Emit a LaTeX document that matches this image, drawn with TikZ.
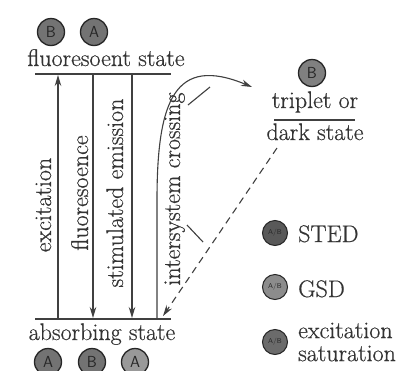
\documentclass[tikz,border=0pt]{standalone}
\usepackage{fontspec}
\setmainfont{Latin Modern Roman}[FakeBold=0.5]
\usetikzlibrary{arrows.meta}
\begin{document}
\begin{tikzpicture}[x=1pt,y=-1pt,
  lbl/.style={text=black!80, font=\fontsize{24}{23}\selectfont, inner sep=0pt},
  level/.style={draw=black!75, line width=1.4pt},
  trans/.style={draw=black!75, line width=1.1pt, -{Stealth[length=11pt,width=6.5pt]}},
  plain/.style={draw=black!75, line width=1.1pt},
  ball/.style={circle, draw=black!85, line width=1.3pt, fill=black!55, minimum size=27pt,
    inner sep=0pt, text=black!85, font=\sffamily\fontsize{16}{16}\selectfont},
  lightball/.style={ball, fill=black!40},
  keyball/.style={circle, draw=black!85, line width=1pt, fill=black!60, minimum size=25pt,
    inner sep=0pt, text=black!85, font=\sffamily\fontsize{7}{7}\selectfont},
]
\useasboundingbox (0,0) rectangle (407,370);
\fill[white] (0,0) rectangle (407,370);

% energy levels
\coordinate (fl-l) at (35,74);  \coordinate (fl-r) at (171,74);
\coordinate (ab-l) at (35,319); \coordinate (ab-r) at (171,319);
\draw[level] (fl-l) -- (fl-r);
\draw[level] (ab-l) -- (ab-r);
\node[lbl, anchor=base] (fluor) at (106,66) {fluoresoent state};
\node[lbl, anchor=base] (absorb) at (102,340) {absorbing state};

% molecules in each state
\node[ball] (fB) at (51,32) {B};
\node[ball] (fA) at (94,32) {A};
\node[ball] (aA1) at (48,362) {A};
\node[ball] (aB) at (92,362) {B};
\node[lightball] (aA2) at (135,362) {A};

% dark state
\node[ball, fill=black!50] (tB) at (312,73) {B};
\node[lbl, anchor=base] (trip) at (315,108) {triplet or};
\node[lbl, anchor=base] (dark) at (315,140) {dark state};
\coordinate (tl-l) at (274,120); \coordinate (tl-r) at (355,120);
\draw[level, line width=1.1pt] (tl-l) -- (tl-r);

% radiative transitions
\coordinate (exc-b) at (58,319); \coordinate (exc-t) at (58,75);
\coordinate (fls-t) at (93,74);  \coordinate (fls-b) at (93,318);
\coordinate (sti-t) at (132,74); \coordinate (sti-b) at (132,318);
\draw[trans] (exc-b) -- (exc-t);
\draw[trans] (fls-t) -- (fls-b);
\draw[trans] (sti-t) -- (sti-b);
\node[lbl, rotate=90, anchor=base] (lexc) at (51,205) {excitation};
\node[lbl, rotate=90, anchor=base] (lfls) at (88,193) {fluoresoence};
\node[lbl, rotate=90, anchor=base] (lsti) at (123,193) {stimulated emission};
\node[lbl, rotate=90, anchor=base] (lisc) at (180,189) {intersystem crossing};

% intersystem crossing into and out of the dark state
\coordinate (isc-b) at (157,319);
\coordinate (isc-m) at (157,200);
\coordinate (isc-t) at (252,87);
\draw[trans] (isc-b) -- (isc-m) .. controls (157,100) and (175,55) .. (isc-t);
\coordinate (dsh-t) at (277,148);
\coordinate (dsh-b) at (163,316);
\draw[trans, dash pattern=on 7pt off 5pt] (dsh-t) -- (dsh-b);
\coordinate (tk1-a) at (188,105); \coordinate (tk1-b) at (210,87);
\coordinate (tk2-a) at (187,225); \coordinate (tk2-b) at (203,242);
\draw[plain] (tk1-a) -- (tk1-b);
\draw[plain] (tk2-a) -- (tk2-b);

% key
\node[keyball, fill=black!65] (kS) at (275,233) {A/B};
\node[lbl, anchor=base west] (tS) at (298,242) {STED};
\node[keyball, fill=black!45] (kG) at (275,287) {A/B};
\node[lbl, anchor=base west] (tG) at (298,297) {GSD};
\node[keyball, fill=black!58] (kE) at (275,342) {A/B};
\node[lbl, anchor=west, align=left] (tE) at (298,342) {excitation\\saturation};
\end{tikzpicture}
\end{document}
